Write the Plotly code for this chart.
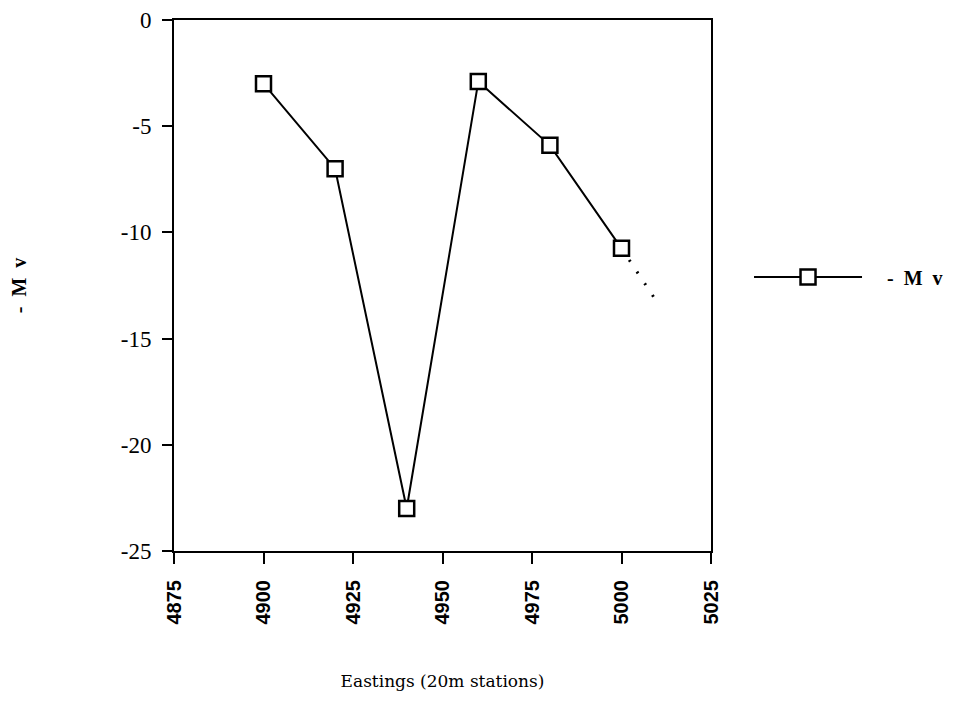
import plotly.graph_objects as go

eastings = [4900, 4920, 4940, 4960, 4980, 5000]
mv_values = [-3.0, -7.0, -23.0, -2.9, -5.9, -10.75]
trend_x = [5000, 5010]
trend_y = [-10.75, -13.3]
x_ticks = [4875, 4900, 4925, 4950, 4975, 5000, 5025]
y_ticks = [0, -5, -10, -15, -20, -25]

serif = "Liberation Serif"
NB = "\u00a0"

fig = go.Figure()
fig.add_trace(go.Scatter(
    x=trend_x, y=trend_y, mode="lines",
    line=dict(color="black", width=3, dash="2px,12px"),
    showlegend=False, hoverinfo="skip"))
fig.add_trace(go.Scatter(
    x=eastings, y=mv_values, mode="lines+markers",
    name=NB * 4 + "-" + NB * 2 + "M" + NB * 2 + "v",
    line=dict(color="black", width=2),
    marker=dict(symbol="square", size=15, color="white",
                line=dict(color="black", width=2.5))))

fig.update_layout(
    width=956, height=726,
    margin=dict(l=166, r=253, t=12, b=183),
    paper_bgcolor="white", plot_bgcolor="white",
    font=dict(family=serif, color="black", size=16),
    showlegend=True,
    legend=dict(x=1.0708, y=0.516, xanchor="left", yanchor="middle",
                itemwidth=108,
                font=dict(size=20, family=serif, weight="bold"),
                bgcolor="rgba(0,0,0,0)"),
    xaxis=dict(range=[4875, 5025], tickvals=x_ticks,
               ticktext=[str(v) for v in x_ticks], tickangle=-90,
               automargin=False,
               showgrid=False, zeroline=False, showline=True, mirror=True,
               linecolor="black", linewidth=2, ticks="outside", ticklen=11,
               tickwidth=2, tickcolor="black", ticklabelstandoff=8,
               tickfont=dict(size=20, family="Liberation Sans", weight="bold"),
               title=dict(text="Eastings (20m stations)", standoff=52,
                          font=dict(size=17, family="DejaVu Serif"))),
    yaxis=dict(range=[-25, 0], tickvals=y_ticks,
               ticktext=[str(v) for v in y_ticks],
               automargin=False,
               showgrid=False, zeroline=False, showline=True, mirror=True,
               linecolor="black", linewidth=2, ticks="outside", ticklen=10,
               tickwidth=2, tickcolor="black", ticklabelstandoff=6,
               tickfont=dict(size=23, family=serif),
               title=dict(text="-" + NB * 2 + "M" + NB * 2 + "v", standoff=92,
                          font=dict(size=20, family=serif, weight="bold"))),
)

fig.write_html("out.html")
